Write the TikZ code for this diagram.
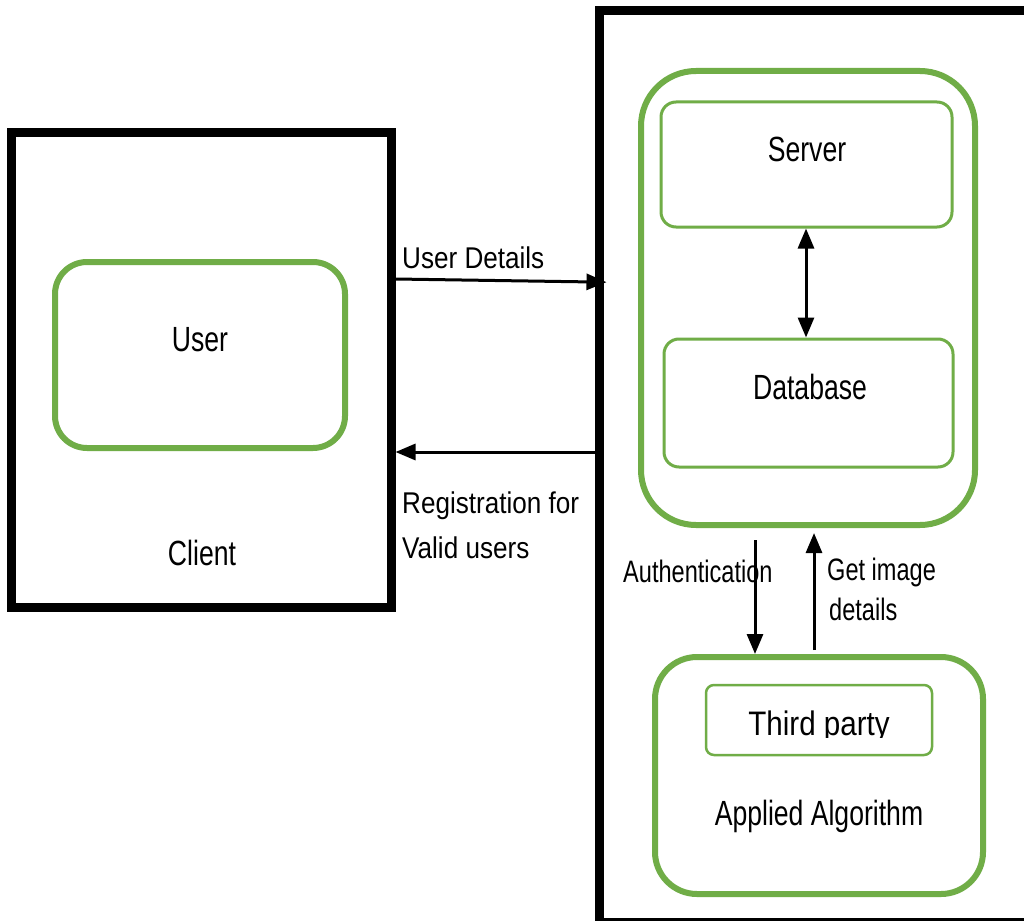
\documentclass[tikz,border=0pt]{standalone}
\usepackage{fontspec}
\setmainfont{Liberation Sans}[FakeStretch=0.76]
\newfontfamily\widefont{Liberation Sans}[FakeStretch=0.87]
\usetikzlibrary{arrows.meta,calc}
\definecolor{ggreen}{HTML}{70AD47}
\begin{document}
\begin{tikzpicture}[x=1pt,y=-1pt,
  blackbox/.style={draw=black,line width=9pt,inner sep=0pt},
  gouter/.style={draw=ggreen,line width=6pt,inner sep=0pt},
  ginner/.style={draw=ggreen,line width=3pt,inner sep=0pt,rounded corners=15pt},
  arr/.style={line width=3pt,-{Triangle[length=20pt,width=16pt]}},
  dblarr/.style={line width=3pt,{Triangle[length=20pt,width=16pt]}-{Triangle[length=20pt,width=16pt]}},
  txt/.style={inner sep=0pt,anchor=base,font=\fontsize{35}{42}\selectfont},
  lbl/.style={inner sep=0pt,anchor=base west,font=\widefont\fontsize{30}{40}\selectfont},
  slbl/.style={inner sep=0pt,anchor=base west,font=\fontsize{31}{40}\selectfont}]
\useasboundingbox (0,0) rectangle (1024,920);
\fill[white] (0,0) rectangle (1024,920);
\begin{scope}
\clip (0,0) rectangle (1024,920);
% boxes
\node[blackbox,minimum width=380pt,minimum height=474pt] (client) at (201,370) {};
\node[blackbox,minimum width=441pt,minimum height=911pt] (sys) at (819.5,466.5) {};
\node[gouter,rounded corners=32pt,minimum width=290pt,minimum height=186pt] (user) at (200,355) {};
\node[gouter,rounded corners=55pt,minimum width=334pt,minimum height=454pt] (sdb) at (808,298) {};
\node[ginner,minimum width=291pt,minimum height=125pt] (server) at (806.5,164.5) {};
\node[ginner,minimum width=289pt,minimum height=128pt] (db) at (808.5,403) {};
\node[gouter,rounded corners=42pt,minimum width=328pt,minimum height=237pt] (alg) at (819,775.5) {};
\node[draw=ggreen,line width=2.5pt,inner sep=0pt,rounded corners=8pt,minimum width=226pt,minimum height=70pt] (tp) at (819,720) {};
% texts
\node[txt] (tuser) at (200,351) {User};
\node[txt] (tclient) at (202,565) {Client};
\node[txt] (tserver) at (807,161) {Server};
\node[txt] (tdb) at (810,399) {Database};
\begin{scope}
\clip (706,685) rectangle (932,737);
\node[inner sep=0pt,anchor=base,font=\widefont\fontsize{34}{40}\selectfont] (ttp) at (819,735) {Third party};
\end{scope}
\node[txt] (talg) at (819,825) {Applied Algorithm};
\node[lbl] (lud) at (402,268) {User Details};
\node[lbl] (lreg1) at (402,513) {Registration for};
\node[lbl] (lreg2) at (402,558) {Valid users};
\node[slbl] (lauth) at (623,582) {Authentication};
\node[slbl] (lget1) at (827,580) {Get image};
\node[slbl] (lget2) at (829,620) {details};
% connectors
\draw[arr,shorten >=-12pt] (client.east |- 0,279) -- (sys.west |- 0,282);
\draw[arr] (sys.west |- 0,452) -- (client.east |- 0,452);
\draw[dblarr] (server.south -| 806,0) -- (db.north -| 806,0);
\draw[arr] ($(sdb.south -| 755,0)+(0,12)$) -- (alg.north -| 755,0);
\draw[arr] ($(alg.north -| 814,0)+(0,-4)$) -- ($(sdb.south -| 814,0)+(0,5)$);
\end{scope}
\end{tikzpicture}
\end{document}
